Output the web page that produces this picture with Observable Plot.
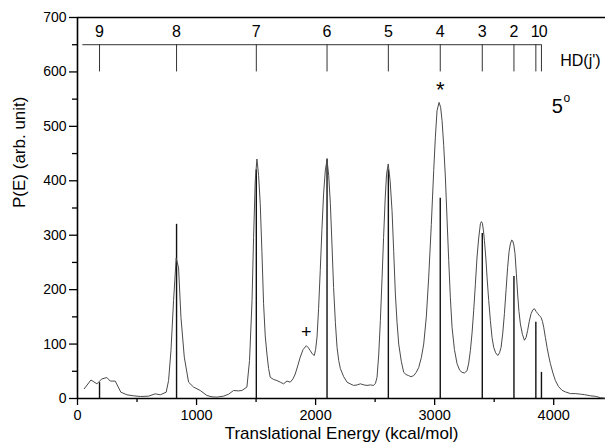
<!DOCTYPE html>
<html>
<head>
<meta charset="utf-8">
<script src="https://cdn.jsdelivr.net/npm/d3@7"></script>
<script src="https://cdn.jsdelivr.net/npm/@observablehq/plot@0.6"></script>
<style>
  html, body { margin: 0; padding: 0; background: #fff; }
  #chart svg { display: block; }
</style>
</head>
<body>
<div id="chart"></div>
<script>
// ---- Data ----
const curveE = [57, 113, 163, 205, 247, 275, 317, 364, 415, 470, 527, 597, 653, 695, 745, 765, 785, 807, 829, 849, 869, 897, 933, 975, 1031, 1087, 1130, 1171, 1227, 1270, 1311, 1350, 1381, 1423, 1445, 1466, 1479, 1493, 1507, 1521, 1535, 1549, 1563, 1577, 1591, 1605, 1619, 1647, 1675, 1703, 1731, 1759, 1787, 1810, 1829, 1850, 1871, 1895, 1922, 1940, 1955, 1972, 1989, 2000, 2012, 2025, 2039, 2053, 2067, 2082, 2096, 2110, 2124, 2138, 2151, 2166, 2180, 2194, 2208, 2236, 2264, 2290, 2319, 2350, 2376, 2405, 2432, 2460, 2487, 2503, 2516, 2530, 2544, 2558, 2571, 2585, 2596, 2610, 2626, 2642, 2656, 2670, 2684, 2698, 2720, 2740, 2760, 2782, 2800, 2824, 2845, 2866, 2888, 2908, 2930, 2950, 2972, 2992, 3006, 3020, 3037, 3050, 3062, 3076, 3090, 3104, 3118, 3132, 3146, 3166, 3188, 3210, 3230, 3250, 3272, 3286, 3300, 3314, 3328, 3342, 3356, 3370, 3384, 3393, 3401, 3410, 3418, 3430, 3440, 3454, 3468, 3482, 3496, 3512, 3530, 3545, 3558, 3572, 3586, 3600, 3613, 3625, 3636, 3647, 3655, 3665, 3675, 3686, 3697, 3708, 3720, 3737, 3754, 3768, 3781, 3795, 3810, 3825, 3838, 3852, 3866, 3880, 3894, 3905, 3916, 3930, 3944, 3958, 3972, 3993, 4014, 4040, 4070, 4100, 4141, 4180, 4225, 4260, 4309, 4350, 4393, 4435];
const curveP = [18, 34, 27, 36, 38.5, 32, 32, 11.6, 6.8, 5, 3.7, 4.3, 8.6, 6.8, 11.6, 33, 88, 180, 258, 240, 149, 76, 30, 21, 14.7, 5.5, 3, 2.5, 4.3, 8, 14.7, 14, 14.7, 21, 70, 180, 296, 400, 440, 410, 358, 270, 174, 115, 82, 55, 39, 35, 33, 30, 27, 32, 30, 36, 45, 60, 76, 90, 97, 93, 88, 82, 79, 90, 113, 165, 235, 310, 376, 420, 438, 410, 358, 280, 204, 140, 94, 70, 55, 40, 30, 27, 24, 25, 27, 25, 24, 25, 24, 28, 39, 80, 143, 220, 296, 370, 412, 431, 400, 345, 270, 192, 140, 100, 68, 48, 44, 42, 40, 42, 48, 57, 75, 100, 150, 223, 320, 419, 480, 529, 544, 535, 511, 465, 407, 330, 254, 185, 131, 90, 64, 52, 48, 47, 51, 65, 88, 120, 162, 210, 260, 295, 321, 325, 322, 308, 290, 258, 223, 180, 143, 112, 94, 84, 79, 84, 94, 120, 156, 200, 241, 270, 284, 291, 290, 282, 266, 230, 192, 160, 137, 118, 107, 112, 125, 142, 156, 163, 165, 160, 156, 152, 149, 142, 131, 112, 94, 78, 64, 47, 33, 22, 15, 12, 9, 9, 8, 7, 5, 4, 1.5, 0.5];

// HD(j') rotational levels: energies and stick heights
const levelJ = [9, 8, 7, 6, 5, 4, 3, 2, 1, 0];
const levelE = [185, 832, 1502, 2096, 2611, 3047, 3400, 3666, 3850, 3897];
const stickP = [29, 320, 420, 440, 420, 368, 303, 224, 140, 48];

const combTop = 650, combBottom = 600, combStart = 45, combLabelY = 673;
const xTicks = [0, 1000, 2000, 3000, 4000];
const xMinor = [500, 1500, 2500, 3500];
const yTicks = [0, 100, 200, 300, 400, 500, 600, 700];
const yMinor = [50, 150, 250, 350, 450, 550, 650];

const curve = curveE.map((e, i) => ({E: e, P: curveP[i]}));
const levels = levelJ.map((j, i) => ({j, E: levelE[i], P: stickP[i]}));

const font = "'Liberation Sans', Arial, Helvetica, sans-serif";
const pairMid = (levelE[8] + levelE[9]) / 2;

const chart = Plot.plot({
  width: 605,
  height: 444,
  marginLeft: 77,
  marginRight: 0,
  marginTop: 17,
  marginBottom: 46,
  style: {fontFamily: font, color: "#000", background: "#fff"},
  x: {domain: [0, 4435]},
  y: {domain: [0, 700]},
  marks: [
    // axis ticks
    Plot.axisX({ticks: xTicks, tickSize: 7, tickFormat: () => "", label: null, stroke: "#000", strokeWidth: 1.3}),
    Plot.axisX({ticks: xMinor, tickSize: 4, tickFormat: () => "", label: null, stroke: "#000", strokeWidth: 1.3}),
    Plot.axisY({ticks: yTicks, tickSize: 8, tickFormat: () => "", label: null, stroke: "#000", strokeWidth: 1.3}),
    Plot.axisY({ticks: yMinor, tickSize: 5, tickFormat: () => "", label: null, stroke: "#000", strokeWidth: 1.3}),
    // tick labels
    Plot.text(xTicks, {x: d => d, frameAnchor: "bottom", lineAnchor: "top", dy: 11, text: d => String(d), fontSize: 14.5, fill: "#000"}),
    Plot.text(yTicks, {y: d => d, frameAnchor: "left", textAnchor: "end", dx: -11, text: d => String(d), fontSize: 14, fill: "#000"}),
    // frame lines
    Plot.ruleY([0, 700], {stroke: "#000", strokeWidth: 1.6}),
    Plot.ruleX([0], {stroke: "#000", strokeWidth: 1.6}),
    // sticks
    Plot.ruleX(levels, {x: "E", y1: 0, y2: "P", stroke: "#111", strokeWidth: 1.4}),
    // P(E) curve
    Plot.line(curve, {x: "E", y: "P", stroke: "#4a4a4a", strokeWidth: 1}),
    // comb
    Plot.ruleY([combTop], {x1: combStart, x2: levelE[levelE.length - 1], stroke: "#333", strokeWidth: 1}),
    Plot.ruleX(levels, {x: "E", y1: combBottom, y2: combTop, stroke: "#333", strokeWidth: 1}),
    Plot.text(levels.filter(d => d.j > 1), {x: "E", y: combLabelY, text: d => String(d.j), fontSize: 16, fill: "#000"}),
    Plot.text(levels.filter(d => d.j === 1), {x: pairMid, y: combLabelY, text: d => String(d.j), textAnchor: "end", dx: 1, fontSize: 16, fill: "#000"}),
    Plot.text(levels.filter(d => d.j === 0), {x: pairMid, y: combLabelY, text: d => String(d.j), textAnchor: "start", dx: 0, fontSize: 16, fill: "#000"}),
    Plot.text(["HD(j')"], {x: 4224, y: 621, fontSize: 16, fill: "#000"}),
    // annotations
    Plot.text(["5"], {x: 4031, y: 536, fontSize: 20, fill: "#000"}),
    Plot.text(["o"], {x: 4111, y: 551, fontSize: 12, fill: "#000"}),
    Plot.text(["*"], {x: 3047, y: 566, fontSize: 22, fill: "#000"}),
    Plot.text(["+"], {x: 1921, y: 121, fontSize: 18, fill: "#000"}),
    // axis titles
    Plot.text(["Translational Energy (kcal/mol)"], {frameAnchor: "bottom", dy: 40, fontSize: 17, fill: "#000"}),
    Plot.text(["P(E) (arb. unit)"], {frameAnchor: "left", rotate: -90, dx: -58, fontSize: 17, fill: "#000"})
  ]
});
document.getElementById("chart").appendChild(chart);
</script>
</body>
</html>
